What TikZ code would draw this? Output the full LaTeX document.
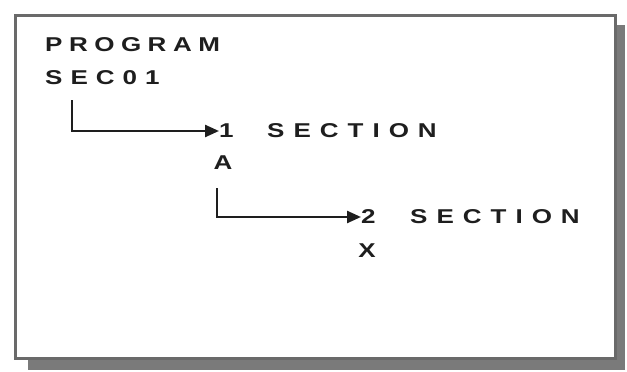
\documentclass[tikz,border=0pt]{standalone}
\usepackage{fontspec}
\setmainfont{Liberation Sans}[FakeStretch=1.3]
\usetikzlibrary{arrows.meta}
\ExplSyntaxOn
\dim_new:N \l_gap_dim
\NewDocumentCommand\spaced{O{8pt}m}{
  \dim_set:Nn \l_gap_dim {#1}
  \hspace*{-\l_gap_dim}
  \tl_map_inline:nn {#2} { \hspace*{\l_gap_dim}##1 }
}
\ExplSyntaxOff
\definecolor{ink}{HTML}{1E1E1E}
\definecolor{framec}{HTML}{6A6A6A}
\definecolor{shadowc}{HTML}{7A7A7A}
\tikzset{
  lbl/.style={inner sep=0pt, anchor=west, text=ink, font=\fontsize{20}{20}\selectfont\bfseries},
  conn/.style={draw=ink, line width=2.4pt, -{Triangle[length=14pt,width=12pt]}},
}
\begin{document}
\begin{tikzpicture}[x=1pt,y=-1pt]
\useasboundingbox (0,0) rectangle (627,372);
\fill[shadowc] (28,25) rectangle (625,370);
\draw[framec, fill=white, line width=3pt] (15,15) rectangle (615,358);
\node[lbl] (prog) at (45,45) {\spaced[6.5pt]{PROGRAM}};
\node[lbl] (sec01) at (45,78) {\spaced{SEC01}};
\node[lbl] (n1) at (219,131) {1};
\node[lbl] (s1) at (267,131) {\spaced[9pt]{SECTION}};
\node[lbl, anchor=center] (a) at (223,163) {A};
\node[lbl] (n2) at (361,217) {2};
\node[lbl] (s2) at (410,217) {\spaced[9pt]{SECTION}};
\node[lbl, anchor=center] (x) at (367,251) {X};
\coordinate (c1) at (72,100);
\coordinate (c2) at (217,188);
\draw[conn] (c1) |- (n1.west);
\draw[conn] (c2) |- (n2.west);
\end{tikzpicture}
\end{document}
